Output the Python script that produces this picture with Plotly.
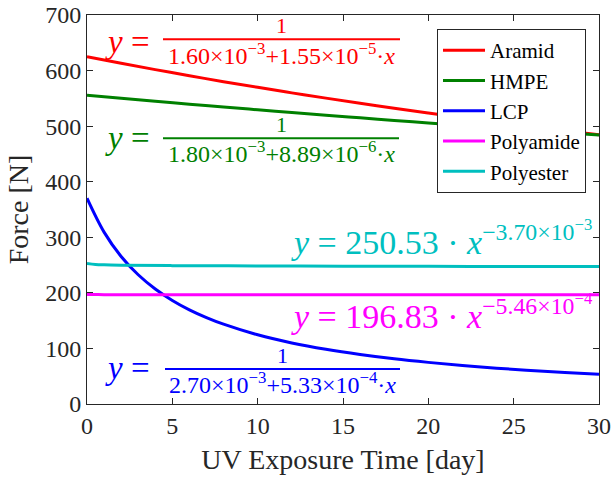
import plotly.graph_objects as go

# ---- data ----
names = ["Aramid", "HMPE", "LCP", "Polyamide", "Polyester"]
colors = ["#ff0000", "#008000", "#0000ff", "#ff00ff", "#00bfbf"]

x_a = [0, 2, 4, 6, 8, 10, 12, 14, 16, 18, 20, 22, 24, 26, 28, 30]
aramid = [625.0, 613.1, 601.7, 590.7, 580.0, 569.8, 559.9, 550.4, 541.1, 532.2,
          523.6, 515.2, 507.1, 499.3, 491.6, 484.3]
hmpe = [555.6, 550.1, 544.8, 539.6, 534.4, 529.4, 524.5, 519.6, 514.9, 510.2,
        505.6, 501.1, 496.7, 492.3, 488.1, 483.9]
x_l = [0, 1, 2, 3, 4, 5, 6, 7, 8, 10, 12, 14, 16, 18, 20, 22, 24, 26, 28, 30]
lcp = [370.4, 309.3, 265.5, 232.6, 207.0, 186.4, 169.5, 155.5, 143.6, 124.5,
       109.9, 98.4, 89.1, 81.3, 74.9, 69.3, 64.5, 60.4, 56.7, 53.5]
x_p = [0, 0.5, 1, 2, 5, 10, 15, 20, 25, 30]
polyamide = [197.2, 197.0, 196.8, 196.7, 196.7, 196.6, 196.6, 196.5, 196.5, 196.5]
polyester = [253.0, 251.2, 250.5, 249.9, 249.0, 248.4, 248.0, 247.8, 247.5, 247.4]

xs = [x_a, x_a, x_l, x_p, x_p]
ys = [aramid, hmpe, lcp, polyamide, polyester]

FONT = "Liberation Serif"
INK = "#262626"

fig = go.Figure()
for n, c, xx, yy in zip(names, colors, xs, ys):
    fig.add_trace(go.Scatter(x=xx, y=yy, name=n, mode="lines",
                             line=dict(color=c, width=3, shape="spline")))

L, R, T, B = 87, 15, 15, 73
W, H = 614, 477
PW, PH = W - L - R, H - T - B


def px(x):
    return (x - L) / PW


def py(y):
    return (H - B - y) / PH


ann = []
shapes = []


def frac_eq(color, yeq, yline, ynum, yden, x0, x1, den):
    ann.append(dict(x=px(127), y=py(yeq), text="<i>y</i> =", font=dict(family=FONT, size=33, color=color)))
    ann.append(dict(x=px((x0 + x1) / 2), y=py(ynum), text="1", font=dict(family=FONT, size=22, color=color)))
    ann.append(dict(x=px((x0 + x1) / 2), y=py(yden), text=den, font=dict(family=FONT, size=24, color=color)))
    shapes.append(dict(type="line", xref="paper", yref="paper", x0=px(x0), x1=px(x1),
                       y0=py(yline), y1=py(yline), line=dict(color=color, width=2)))


frac_eq(colors[0], 42, 39.3, 26, 54, 163, 400,
        "1.60×10<sup>−3</sup>+1.55×10<sup>−5</sup>·<i>x</i>")
frac_eq(colors[1], 138, 138.3, 124, 152, 163, 399,
        "1.80×10<sup>−3</sup>+8.89×10<sup>−6</sup>·<i>x</i>")
frac_eq(colors[2], 368, 369, 355, 383, 165, 400,
        "2.70×10<sup>−3</sup>+5.33×10<sup>−4</sup>·<i>x</i>")

ann.append(dict(x=px(289), y=py(238), xanchor="left",
                text="<i>y</i> = 250.53 · <i>x</i><sup>−3.70×10<sup>−3</sup></sup>",
                font=dict(family=FONT, size=34, color=colors[4])))
ann.append(dict(x=px(289), y=py(312), xanchor="left",
                text="<i>y</i> = 196.83 · <i>x</i><sup>−5.46×10<sup>−4</sup></sup>",
                font=dict(family=FONT, size=34, color=colors[3])))

for a in ann:
    a.setdefault("xanchor", "center")
    a.update(xref="paper", yref="paper", yanchor="middle", showarrow=False)

axis_common = dict(showline=True, linecolor=INK, linewidth=1, mirror="ticks",
                   ticks="inside", ticklen=6, tickcolor=INK, showgrid=False,
                   zeroline=False, automargin=False,
                   tickfont=dict(family=FONT, size=24, color=INK))

fig.update_layout(
    template="none",
    width=W, height=H, margin=dict(l=L, r=R, t=T, b=B),
    paper_bgcolor="white", plot_bgcolor="white",
    xaxis=dict(range=[0, 30], tickvals=[0, 5, 10, 15, 20, 25, 30],
               title=dict(text="UV Exposure Time [day]", font=dict(family=FONT, size=28, color=INK), standoff=11),
               **axis_common),
    yaxis=dict(range=[0, 700], tickvals=[0, 100, 200, 300, 400, 500, 600, 700],
               title=dict(text="Force [N]", font=dict(family=FONT, size=28, color=INK), standoff=8),
               **axis_common),
    legend=dict(x=px(586), y=py(29), xanchor="right", yanchor="top",
                bgcolor="white", bordercolor=INK, borderwidth=1, itemwidth=42,
                font=dict(family=FONT, size=21, color="black"), tracegroupgap=0),
    annotations=ann, shapes=shapes, showlegend=True,
)

fig.write_html("out.html")
